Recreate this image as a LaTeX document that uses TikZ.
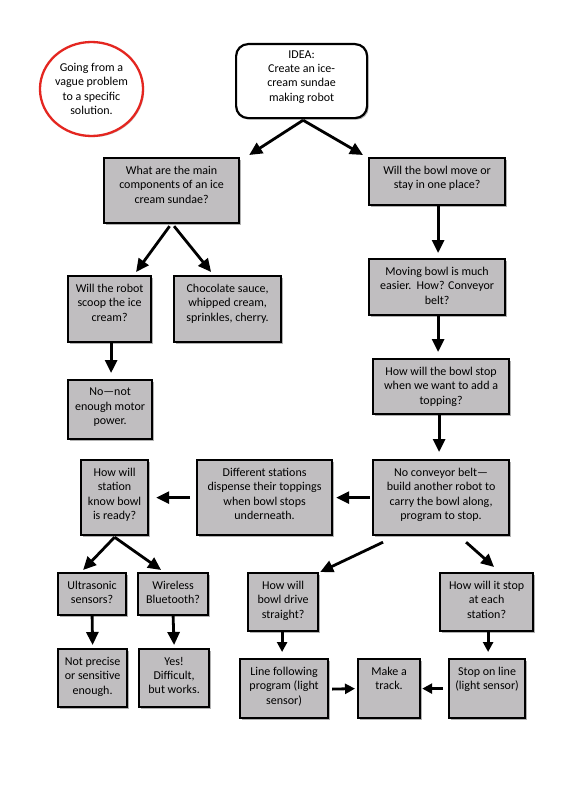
\documentclass[tikz,border=0pt]{standalone}
\usepackage{fontspec}
\setmainfont{Carlito}
\usetikzlibrary{arrows.meta,shadows,calc,shapes.geometric}
\definecolor{boxgray}{RGB}{192,190,192}
\definecolor{ringred}{RGB}{228,38,32}
\tikzset{
 box/.style={draw=black, line width=2.2pt, fill=boxgray, inner sep=0pt, anchor=north west,
   drop shadow={shadow xshift=1.6pt, shadow yshift=-1.6pt, opacity=0.3, fill=black}},
 txt/.style={align=center, inner sep=0pt, anchor=north, font=\fontsize{12}{14.3}\selectfont},
 arr/.style={line width=2.8pt, -{Triangle[length=13pt,width=12pt]}},
 arrs/.style={line width=2.8pt, -{Triangle[length=10pt,width=10pt]}},
}
\newcommand\bx[6]{%
 \pgfmathsetmacro\bxw{#4-#2}\pgfmathsetmacro\bxh{#5-#3}%
 \node[box, minimum width=\bxw pt, minimum height=\bxh pt] (#1) at (#2,#3) {};
 \node[txt] (#1-t) at ([yshift=-9pt]#1.north) {#6};
}
\begin{document}
\begin{tikzpicture}[x=1pt,y=-1pt]
\useasboundingbox (0,0) rectangle (576,792);
\fill[white] (0,0) rectangle (576,792);
% goal circle
\node[draw=ringred, line width=2.3pt, fill=white, ellipse, minimum width=91pt, minimum height=94pt,
  inner sep=0pt, align=center, font=\fontsize{12}{14.3}\selectfont,
  drop shadow={shadow xshift=1.2pt, shadow yshift=-1.2pt, opacity=0.2, fill=black}] (goal) at (91.5,89)
  {Going from a\\vague problem\\to a specific\\solution.};
% idea
\node[draw=black, line width=2.2pt, rounded corners=12pt, fill=white, minimum width=131pt, minimum height=74pt,
  inner sep=0pt, anchor=north west,
  drop shadow={shadow xshift=1.6pt, shadow yshift=-1.6pt, opacity=0.3, fill=black}] (idea) at (235,43) {};
\node[txt] (idea-t) at ([yshift=-7.5pt]idea.north) {IDEA:\\Create an ice-\\cream sundae\\making robot};
% boxes
\bx{q1}{103}{157}{238}{222}{What are the main\\components of an ice\\cream sundae?}
\bx{q2}{368}{157}{504}{204}{Will the bowl move or\\stay in one place?}
\bx{mov}{368}{258}{504}{314}{Moving bowl is much\\easier.\ \ How? Conveyor\\belt?}
\bx{stop}{372}{358}{508}{413}{How will the bowl stop\\when we want to add a\\topping?}
\bx{scoop}{67}{275}{150}{341}{Will the robot\\scoop the ice\\cream?}
\bx{choc}{173}{275}{280}{341}{Chocolate sauce,\\whipped cream,\\sprinkles, cherry.}
\bx{nomotor}{67}{379}{151}{438}{No—not\\enough motor\\power.}
\bx{know}{80}{459}{147}{534}{How will\\station\\know bowl\\is ready?}
\bx{diff}{196}{459}{331}{534}{Different stations\\dispense their toppings\\when bowl stops\\underneath.}
\bx{noconv}{372}{459}{508}{534}{No conveyor belt—\\build another robot to\\carry the bowl along,\\program to stop.}
\bx{ultra}{57}{572}{125}{614}{Ultrasonic\\sensors?}
\bx{wire}{137}{572}{207}{614}{Wireless\\Bluetooth?}
\bx{notprec}{57}{648}{126}{706}{Not precise\\or sensitive\\enough.}
\bx{yes}{138}{648}{208}{706}{Yes!\\Difficult,\\but works.}
\bx{drive}{247}{572}{317}{630}{How will\\bowl drive\\straight?}
\bx{itstop}{439}{572}{532}{630}{How will it stop\\at each\\station?}
\bx{line}{239}{658}{327}{717}{Line following\\program (light\\sensor)}
\bx{track}{357}{658}{419}{717}{Make a\\track.}
\bx{stopline}{448}{658}{524}{717}{Stop on line\\(light sensor)}
% arrows
\draw[arr] ([shift={(1.5,1)}]idea.south) -- ([shift={(9,-2)}]q1.north east);
\draw[arr] ([shift={(1.5,1)}]idea.south) -- ([shift={(-5,-2)}]q2.north west);
\draw[arr] ([shift={(-2,2)}]q1.south) -- ([shift={(26.5,-3)}]scoop.north);
\draw[arr] ([shift={(2.5,2)}]q1.south) -- ([shift={(-16.5,-3)}]choc.north);
\draw[arr] ([xshift=1pt]q2.south) -- ([shift={(1,-5)}]mov.north);
\draw[arr] ([xshift=1pt]mov.south) -- ([shift={(-3,-6)}]stop.north);
\draw[arr] ([xshift=-2pt]stop.south) -- ([shift={(-2,-7)}]noconv.north);
\draw[arr] ([xshift=1.5pt]scoop.south) -- ([shift={(1,-6)}]nomotor.north);
\draw[arr] ([xshift=-2pt]noconv.west) -- ([xshift=3pt]diff.east);
\draw[arr] ([xshift=-6pt]diff.west) -- ([xshift=7pt]know.east);
\draw[arr] ([yshift=-1pt]know.south) -- ([shift={(-9,-2)}]ultra.north);
\draw[arr] ([yshift=-1pt]know.south) -- ([shift={(-12,-2)}]wire.north);
\draw[arr] ([shift={(11,6)}]noconv.south west) -- ([shift={(1,0)}]drive.north east);
\draw[arr] ([shift={(25,6)}]noconv.south) -- ([shift={(7.5,-5)}]itstop.north);
\draw[arr] (ultra.south) -- ([yshift=3pt]notprec.north);
\draw[arr] (wire.south) -- ([yshift=3pt]yes.north);
\draw[arrs] ([xshift=-1pt]drive.south) -- ([shift={(-2,-6)}]line.north);
\draw[arrs] ([xshift=1.5pt]itstop.south) -- ([shift={(1,-6)}]stopline.north);
\draw[arrs] ([shift={(3,0.5)}]line.east) -- ([xshift=-2pt]track.west);
\draw[arrs] ([xshift=-5pt]stopline.west) -- ([xshift=1pt]track.east);
\end{tikzpicture}
\end{document}
